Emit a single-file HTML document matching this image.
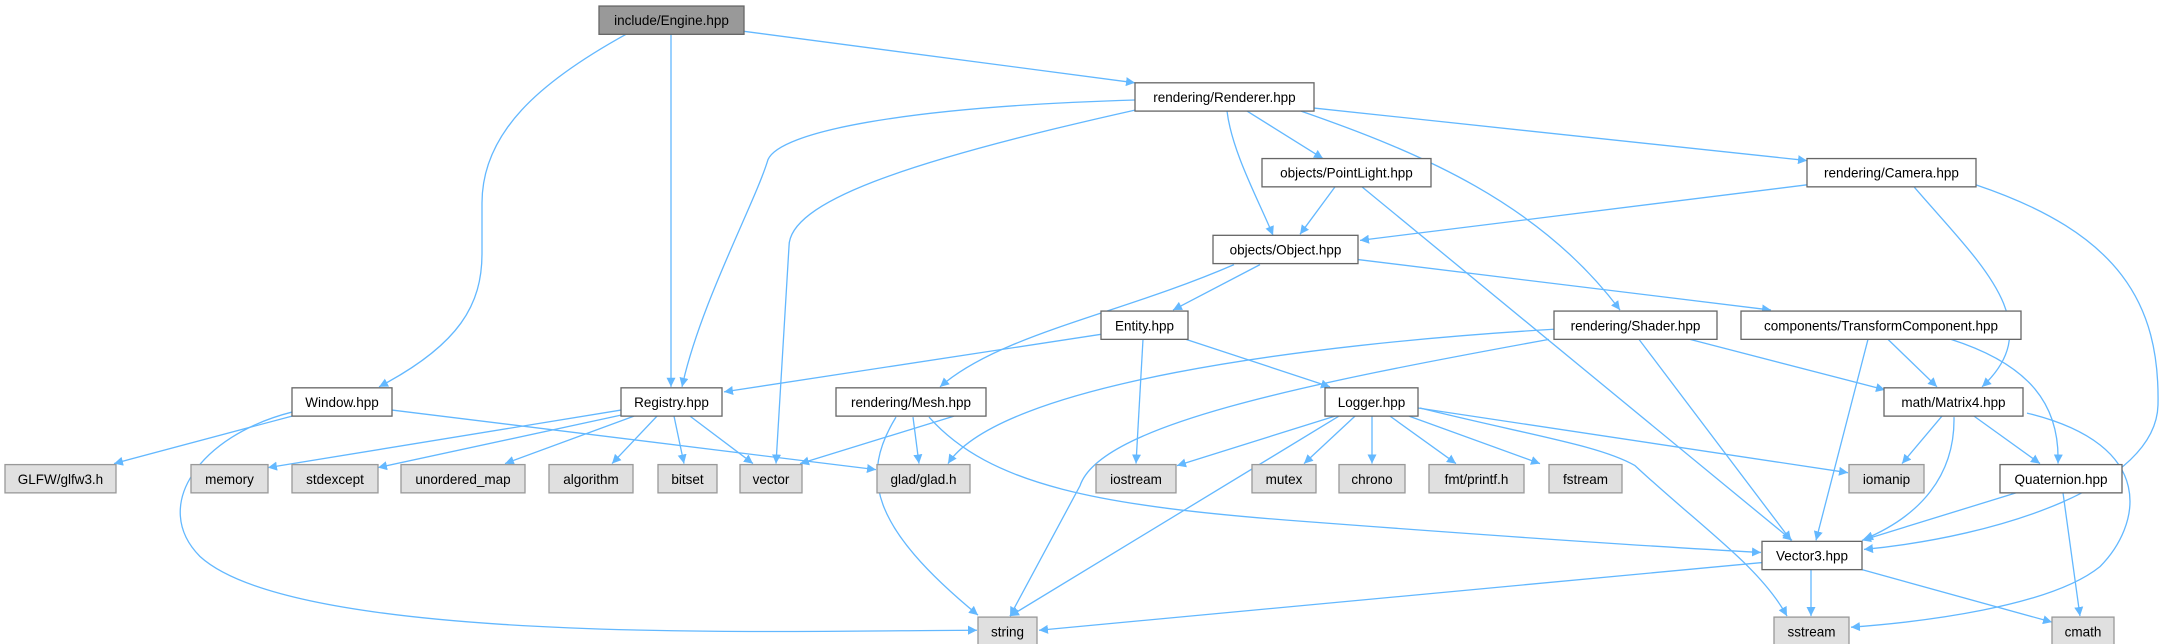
<!DOCTYPE html>
<html><head><meta charset="utf-8"><style>
html,body{margin:0;padding:0;background:#fff;}
svg{display:block;}
text{font-family:"Liberation Sans","DejaVu Sans",sans-serif;font-size:13.5px;fill:#000;text-anchor:middle;}
.e{fill:none;stroke:#63b8ff;stroke-width:1.3;marker-end:url(#a);}
.w{fill:#fff;stroke:#666;stroke-width:1.3;}
.g{fill:#e0e0e0;stroke:#999;stroke-width:1.3;}
.m{fill:#999;stroke:#666;stroke-width:1.3;}
</style></head><body>
<svg width="2161" height="644" viewBox="0 0 2161 644" xmlns="http://www.w3.org/2000/svg">
<defs><marker id="a" viewBox="0 0 10 10" refX="10" refY="5" markerWidth="9" markerHeight="9" markerUnits="userSpaceOnUse" orient="auto"><path d="M0,0 L10,5 L0,10 z" fill="#63b8ff"/></marker></defs>
<g transform="translate(0,1) scale(1,1.01)">
<path class="e" d="M626,33 C540,80 482,130 482,200 L482,250 C482,300 460,340 379,382"/>
<path class="e" d="M671,33 L671,382"/>
<path class="e" d="M744,30 L1135,81"/>
<path class="e" d="M1135,98 C900,105 780,130 768,157 C755,200 700,300 682,382"/>
<path class="e" d="M1135,108 C900,160 789,200 789,243 L776,458"/>
<path class="e" d="M1227,109 C1232,150 1260,200 1273,232"/>
<path class="e" d="M1247,109 L1323,156"/>
<path class="e" d="M1301,109 C1420,150 1540,200 1620,306"/>
<path class="e" d="M1314,106 L1807,158"/>
<path class="e" d="M1335,184 L1300,231"/>
<path class="e" d="M1362,184 L1792,534"/>
<path class="e" d="M1807,182 L1360,237"/>
<path class="e" d="M1914,184 C1980,260 2050,320 1982,382"/>
<path class="e" d="M1976,182 C2120,230 2160,300 2158,400 C2156,480 2000,530 1864,543"/>
<path class="e" d="M1234,261 C1120,310 1000,330 940,382"/>
<path class="e" d="M1260,261 L1173,306"/>
<path class="e" d="M1358,256 L1771,306"/>
<path class="e" d="M1101,330 L724,387"/>
<path class="e" d="M1143,335 L1136,458"/>
<path class="e" d="M1186,335 L1330,382"/>
<path class="e" d="M1554,325 C1300,340 1000,380 948,458"/>
<path class="e" d="M1549,335 C1300,380 1100,420 1080,480 L1010,609"/>
<path class="e" d="M1639,335 L1791,534"/>
<path class="e" d="M1690,335 L1885,385"/>
<path class="e" d="M1888,335 L1937,382"/>
<path class="e" d="M1868,335 L1816,534"/>
<path class="e" d="M1951,335 C2030,360 2060,400 2058,458"/>
<path class="e" d="M954,411 L800,458"/>
<path class="e" d="M913,412 L919,458"/>
<path class="e" d="M896,412 C860,470 870,520 978,608"/>
<path class="e" d="M929,412 C990,480 1100,500 1300,515 C1500,530 1650,540 1761,546"/>
<path class="e" d="M292,411 L114,458"/>
<path class="e" d="M392,405 L876,464"/>
<path class="e" d="M292,407 C200,430 150,500 200,550 C300,640 800,623 977,623"/>
<path class="e" d="M621,405 L268,462"/>
<path class="e" d="M621,410 L378,462"/>
<path class="e" d="M634,411 L505,458"/>
<path class="e" d="M657,411 L612,458"/>
<path class="e" d="M674,411 L684,458"/>
<path class="e" d="M690,411 L753,458"/>
<path class="e" d="M1335,411 L1177,460"/>
<path class="e" d="M1339,411 L1010,609"/>
<path class="e" d="M1355,411 L1304,458"/>
<path class="e" d="M1372,411 L1372,458"/>
<path class="e" d="M1390,411 L1456,458"/>
<path class="e" d="M1409,411 L1540,458"/>
<path class="e" d="M1418,403 L1848,467"/>
<path class="e" d="M1420,403 C1530,430 1600,440 1635,460 C1700,520 1760,560 1787,609"/>
<path class="e" d="M1942,411 L1902,458"/>
<path class="e" d="M1954,412 C1955,470 1920,510 1864,533"/>
<path class="e" d="M1974,411 L2040,458"/>
<path class="e" d="M2027,408 C2160,440 2140,520 2100,560 C2050,600 1920,615 1851,620"/>
<path class="e" d="M2016,487 L1862,534"/>
<path class="e" d="M2063,487 L2080,609"/>
<path class="e" d="M1762,556 L1039,623"/>
<path class="e" d="M1811,563 L1811,609"/>
<path class="e" d="M1862,563 L2052,615"/>
<rect class="m" x="599" y="5" width="145" height="28"/><text x="671.5" y="24">include/Engine.hpp</text>
<rect class="w" x="1135" y="81" width="179" height="28"/><text x="1224.5" y="100">rendering/Renderer.hpp</text>
<rect class="w" x="1262" y="156" width="169" height="28"/><text x="1346.5" y="175">objects/PointLight.hpp</text>
<rect class="w" x="1807" y="156" width="169" height="28"/><text x="1891.5" y="175">rendering/Camera.hpp</text>
<rect class="w" x="1213" y="232" width="145" height="28"/><text x="1285.5" y="251">objects/Object.hpp</text>
<rect class="w" x="1101" y="307" width="87" height="28"/><text x="1144.5" y="326">Entity.hpp</text>
<rect class="w" x="1554" y="307" width="163" height="28"/><text x="1635.5" y="326">rendering/Shader.hpp</text>
<rect class="w" x="1741" y="307" width="280" height="28"/><text x="1881" y="326">components/TransformComponent.hpp</text>
<rect class="w" x="292" y="383" width="100" height="28"/><text x="342" y="402">Window.hpp</text>
<rect class="w" x="621" y="383" width="101" height="28"/><text x="671.5" y="402">Registry.hpp</text>
<rect class="w" x="836" y="383" width="150" height="28"/><text x="911" y="402">rendering/Mesh.hpp</text>
<rect class="w" x="1325" y="383" width="93" height="28"/><text x="1371.5" y="402">Logger.hpp</text>
<rect class="w" x="1884" y="383" width="139" height="28"/><text x="1953.5" y="402">math/Matrix4.hpp</text>
<rect class="g" x="5" y="459" width="111" height="28"/><text x="60.5" y="478">GLFW/glfw3.h</text>
<rect class="g" x="191" y="459" width="77" height="28"/><text x="229.5" y="478">memory</text>
<rect class="g" x="292" y="459" width="86" height="28"/><text x="335" y="478">stdexcept</text>
<rect class="g" x="401" y="459" width="124" height="28"/><text x="463" y="478">unordered_map</text>
<rect class="g" x="549" y="459" width="84" height="28"/><text x="591" y="478">algorithm</text>
<rect class="g" x="658" y="459" width="59" height="28"/><text x="687.5" y="478">bitset</text>
<rect class="g" x="740" y="459" width="62" height="28"/><text x="771" y="478">vector</text>
<rect class="g" x="877" y="459" width="93" height="28"/><text x="923.5" y="478">glad/glad.h</text>
<rect class="g" x="1096" y="459" width="80" height="28"/><text x="1136" y="478">iostream</text>
<rect class="g" x="1252" y="459" width="64" height="28"/><text x="1284" y="478">mutex</text>
<rect class="g" x="1339" y="459" width="66" height="28"/><text x="1372" y="478">chrono</text>
<rect class="g" x="1429" y="459" width="95" height="28"/><text x="1476.5" y="478">fmt/printf.h</text>
<rect class="g" x="1549" y="459" width="73" height="28"/><text x="1585.5" y="478">fstream</text>
<rect class="g" x="1849" y="459" width="75" height="28"/><text x="1886.5" y="478">iomanip</text>
<rect class="w" x="2000" y="459" width="122" height="28"/><text x="2061" y="478">Quaternion.hpp</text>
<rect class="w" x="1762" y="535" width="100" height="28"/><text x="1812" y="554">Vector3.hpp</text>
<rect class="g" x="978" y="610" width="59" height="28"/><text x="1007.5" y="629">string</text>
<rect class="g" x="1774" y="610" width="75" height="28"/><text x="1811.5" y="629">sstream</text>
<rect class="g" x="2052" y="610" width="62" height="28"/><text x="2083" y="629">cmath</text>
</g>
</svg>
</body></html>
